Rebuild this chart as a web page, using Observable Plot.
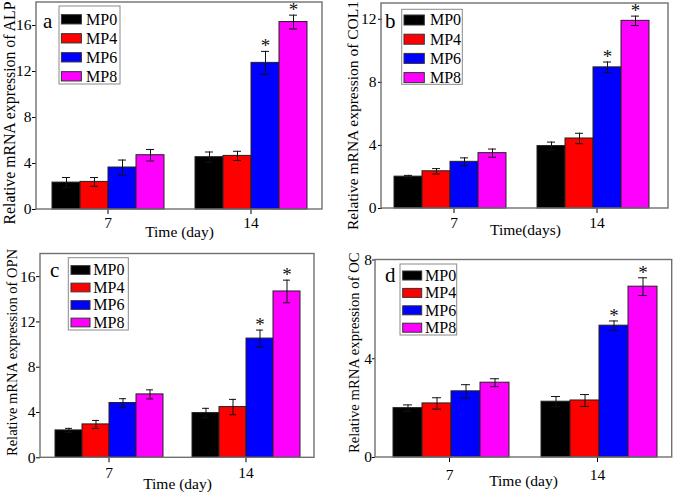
<!DOCTYPE html>
<html>
<head>
<meta charset="utf-8">
<script src="https://cdn.jsdelivr.net/npm/d3@7"></script>
<script src="https://cdn.jsdelivr.net/npm/@observablehq/plot@0.6"></script>
<style>
  html, body { margin: 0; padding: 0; background: #fff; }
  #wrap { position: relative; width: 675px; height: 492px; overflow: hidden; }
  .panel { position: absolute; }
  .panel svg { display: block; overflow: visible; }
  .panel svg text { font-family: "Liberation Serif", "Times New Roman", serif; }
</style>
</head>
<body>
<div id="wrap"></div>
<script>
// ---------- data ----------
const days = ["7", "14"];
const series = ["MP0", "MP4", "MP6", "MP8"];
const colors = ["#000000", "#ff0000", "#0000ff", "#ff00ff"];

// (a) ALP
const alpDay7 = [2.34, 2.40, 3.65, 4.72];
const alpDay7Err = [0.44, 0.38, 0.65, 0.50];
const alpDay14 = [4.55, 4.66, 12.75, 16.30];
const alpDay14Err = [0.45, 0.40, 1.00, 0.60];
const alpStars14 = [false, false, true, true];

// (b) COL1
const colDay7 = [2.02, 2.36, 2.96, 3.51];
const colDay7Err = [0.08, 0.17, 0.25, 0.26];
const colDay14 = [3.96, 4.44, 8.95, 11.90];
const colDay14Err = [0.25, 0.33, 0.34, 0.30];
const colStars14 = [false, false, true, true];

// (c) OPN
const opnDay7 = [2.42, 2.95, 4.84, 5.60];
const opnDay7Err = [0.18, 0.35, 0.38, 0.40];
const opnDay14 = [3.95, 4.48, 10.53, 14.69];
const opnDay14Err = [0.42, 0.68, 0.75, 1.00];
const opnStars14 = [false, false, true, true];

// (d) OC
const ocDay7 = [2.00, 2.19, 2.68, 3.03];
const ocDay7Err = [0.13, 0.23, 0.27, 0.16];
const ocDay14 = [2.26, 2.31, 5.34, 6.92];
const ocDay14Err = [0.21, 0.24, 0.19, 0.36];
const ocStars14 = [false, false, true, true];

const yTicksA = [0, 4, 8, 12, 16];
const yTicksB = [0, 4, 8, 12];
const yTicksC = [0, 4, 8, 12, 16];
const yTicksD = [0, 4, 8];

const noStars = [false, false, false, false];

function buildRows(v7, e7, v14, e14, s14) {
  const vals = [v7, v14], errs = [e7, e14], stars = [noStars, s14];
  return days.flatMap((day, i) => series.map((s, j) => ({
    day, series: s, value: vals[i][j], err: errs[i][j], star: stars[i][j]
  })));
}

// ---------- layout ----------
const panels = [
  { letter: "a", rows: buildRows(alpDay7, alpDay7Err, alpDay14, alpDay14Err, alpStars14),
    yMax: 18, yTicks: yTicksA, yLabel: "Relative mRNA expression of ALP", xLabel: "Time (day)",
    left: 0, top: 0, width: 337, height: 246, mL: 36, mR: 15, mT: 2, mB: 37,
    xPo: 0.509, xAlign: 0.5, yLabelOffset: 33, yLabelSize: 15.8, yLabelShift: 7,
    xLabelOffset: 27, fxPad: 2.4, yTickSize: 4, yTickPad: 1,
    letterPos: [43, 28],
    legend: { left: 59, top: 6, width: 61, height: 78, c0: 13.3, row: 19, swX: 2.4, swW: 20, swH: 9.3, txX: 27 } },
  { letter: "b", rows: buildRows(colDay7, colDay7Err, colDay14, colDay14Err, colStars14),
    yMax: 13, yTicks: yTicksB, yLabel: "Relative mRNA expression of COL1", xLabel: "Time(days)",
    left: 337, top: 0, width: 338, height: 246, mL: 44, mR: 7, mT: 3, mB: 38,
    xPo: 0.531, xAlign: 0.38, yLabelOffset: 36, yLabelSize: 15.5, yLabelShift: 9.5,
    xLabelOffset: 26.7, fxPad: 3.4, yTickSize: 4, yTickPad: 2,
    letterPos: [48, 28.3],
    legend: { left: 64.7, top: 9.3, width: 60.6, height: 75, c0: 10.7, row: 19.2, swX: 2.3, swW: 20.3, swH: 10, txX: 28.3 } },
  { letter: "c", rows: buildRows(opnDay7, opnDay7Err, opnDay14, opnDay14Err, opnStars14),
    yMax: 18, yTicks: yTicksC, yLabel: "Relative mRNA expression of OPN", xLabel: "Time (day)",
    left: 0, top: 246, width: 337, height: 246, mL: 40, mR: 23, mT: 7.5, mB: 34.7,
    xPo: 0.491, xAlign: 0.53, yLabelOffset: 33.3, yLabelSize: 14.5, yLabelShift: -3.4,
    xLabelOffset: 30.7, fxPad: 4.4, yTickSize: 4, yTickPad: 1,
    letterPos: [50, 30.7],
    legend: { left: 68.3, top: 11.7, width: 60, height: 72.3, c0: 12.3, row: 17.5, swX: 2.7, swW: 19, swH: 8.7, txX: 25 } },
  { letter: "d", rows: buildRows(ocDay7, ocDay7Err, ocDay14, ocDay14Err, ocStars14),
    yMax: 8, yTicks: yTicksD, yLabel: "Relative mRNA expression of OC", xLabel: "Time (day)",
    left: 337, top: 246, width: 338, height: 246, mL: 38, mR: 3.3, mT: 13.5, mB: 35,
    xPo: 0.514, xAlign: 0.56, yLabelOffset: 27, yLabelSize: 14.7, yLabelShift: -6,
    xLabelOffset: 28, fxPad: 6, yTickSize: 3, yTickPad: 0.5,
    letterPos: [48, 35.7],
    legend: { left: 63, top: 18, width: 56.7, height: 71, c0: 11.5, row: 17.4, swX: 2.7, swW: 19, swH: 9, txX: 25 } }
];

const FONT = '"Liberation Serif", "Times New Roman", serif';
const wrap = document.getElementById("wrap");

for (const p of panels) {
  const rows = p.rows;
  const plot = Plot.plot({
    width: p.width,
    height: p.height,
    marginLeft: p.mL, marginRight: p.mR, marginTop: p.mT, marginBottom: p.mB,
    style: { fontFamily: FONT, fontSize: "15.5px", color: "#000", background: "transparent" },
    facet: { data: rows, x: "day" },
    fx: {
      domain: days, paddingInner: 0, paddingOuter: 0,
      axis: "bottom", label: p.xLabel, labelAnchor: "center", labelOffset: p.xLabelOffset, labelArrow: "none",
      tickSize: 5, tickPadding: p.fxPad
    },
    x: { domain: series, paddingInner: 0, paddingOuter: p.xPo, align: p.xAlign, axis: null },
    y: {
      domain: [0, p.yMax], ticks: p.yTicks, tickSize: p.yTickSize, tickPadding: p.yTickPad,
      label: p.yLabel, labelAnchor: "center", labelOffset: p.yLabelOffset, labelArrow: "none"
    },
    color: { domain: series, range: colors },
    marks: [
      Plot.barY(rows, { x: "series", y: "value", fill: "series", stroke: "#222", strokeWidth: 1 }),
      Plot.ruleX(rows, { x: "series", y1: d => d.value - d.err, y2: d => d.value + d.err, stroke: "#111", strokeWidth: 1 }),
      Plot.tickY(rows, { x: "series", y: d => d.value + d.err, stroke: "#111", strokeWidth: 1, insetLeft: 10, insetRight: 10 }),
      Plot.tickY(rows, { x: "series", y: d => d.value - d.err, stroke: "#111", strokeWidth: 1, insetLeft: 10, insetRight: 10 }),
      Plot.text(rows, { filter: d => d.star, x: "series", y: d => d.value + d.err, text: () => "*", dy: -5, fontSize: 19, fill: "#111" })
    ]
  });

  const svgEl = plot.tagName.toLowerCase() === "svg" ? plot : plot.querySelector("svg");
  const svg = d3.select(svgEl);

  // adjust the rotated y-axis title (size and vertical centring)
  svg.selectAll("text").each(function () {
    if (this.textContent === p.yLabel) {
      const t = this.getAttribute("transform") || "";
      this.setAttribute("transform", `translate(0,${p.yLabelShift}) ` + t);
      this.style.fontSize = p.yLabelSize + "px";
    }
  });

  // plot frame around the whole facet area
  let fxr, yr;
  try { fxr = plot.scale("fx").range; } catch (e) { fxr = null; }
  try { yr = plot.scale("y").range; } catch (e) { yr = null; }
  if (!fxr) fxr = [p.mL, p.width - p.mR];
  if (!yr) yr = [p.height - p.mB, p.mT];
  svg.append("rect")
    .attr("x", fxr[0]).attr("y", yr[1])
    .attr("width", fxr[1] - fxr[0]).attr("height", yr[0] - yr[1])
    .attr("fill", "none").attr("stroke", "#707070").attr("stroke-width", 1.4);

  // panel letter
  svg.append("text")
    .attr("x", p.letterPos[0]).attr("y", p.letterPos[1])
    .style("text-anchor", "start")
    .style("font-family", FONT).style("font-size", "21px").style("font-weight", "normal")
    .attr("fill", "#000")
    .text(p.letter);

  // legend
  const L = p.legend;
  const g = svg.append("g").attr("transform", `translate(${L.left},${L.top})`);
  g.append("rect").attr("width", L.width).attr("height", L.height)
    .attr("fill", "#fff").attr("stroke", "#8a8a8a").attr("stroke-width", 1);
  series.forEach((s, i) => {
    const cy = L.c0 + i * L.row;
    g.append("rect").attr("x", L.swX).attr("y", cy - L.swH / 2)
      .attr("width", L.swW).attr("height", L.swH)
      .attr("fill", colors[i]).attr("stroke", "#333").attr("stroke-width", 1);
    g.append("text").attr("x", L.txX).attr("y", cy)
      .style("text-anchor", "start")
      .style("dominant-baseline", "central")
      .style("font-family", FONT).style("font-size", "16px").style("font-weight", "normal")
      .attr("fill", "#000")
      .text(s);
  });

  const div = document.createElement("div");
  div.className = "panel";
  div.style.left = p.left + "px";
  div.style.top = p.top + "px";
  div.appendChild(plot);
  wrap.appendChild(div);
}
</script>
</body>
</html>
